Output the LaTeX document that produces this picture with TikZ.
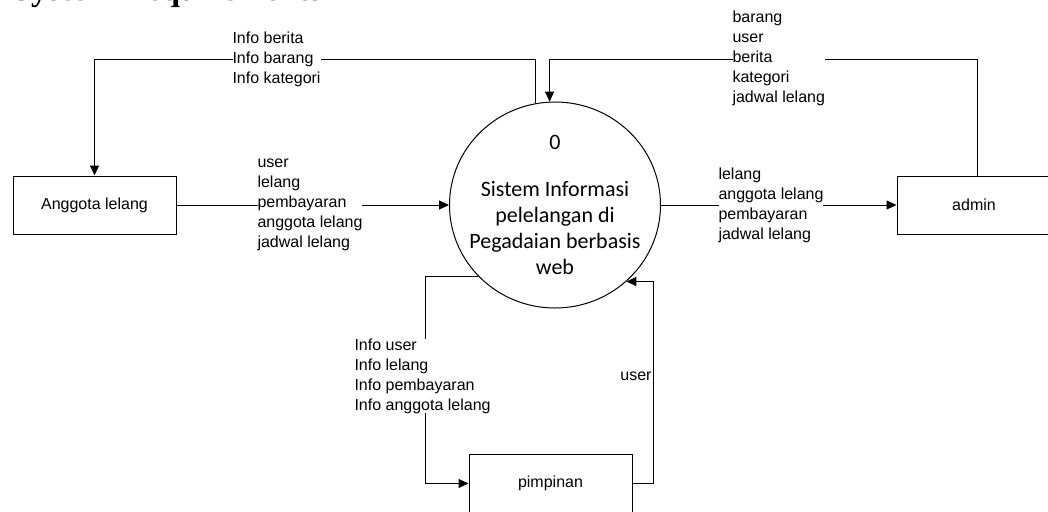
\documentclass[tikz,border=0pt]{standalone}
\usepackage{fontspec}
\setmainfont{Liberation Sans}
\newfontfamily\procfont{Carlito}
\newfontfamily\headfont{Liberation Serif}
\usetikzlibrary{arrows.meta,shapes.geometric}

\tikzset{every picture/.style={line width=0.75pt}}
\tikzset{
  entity/.style={draw, rectangle, minimum height=43.5pt, inner sep=0pt, font=\fontsize{12}{15}\selectfont},
  process/.style={draw, ellipse, minimum width=158.25pt, minimum height=154.5pt, inner sep=0pt},
  proctext/.style={align=center, inner sep=0pt, font=\procfont\fontsize{16.5}{19.5}\selectfont},
  flow/.style={-{Triangle[length=7.5pt,width=6.75pt]}},
  flowlabel/.style={anchor=west, align=left, fill=white, inner sep=0pt, font=\fontsize{12}{15}\selectfont},
}

\begin{document}
\begin{tikzpicture}[x=0.75pt,y=0.75pt,yscale=-1,xscale=1]
\useasboundingbox (0,0) rectangle (1048,511);
\clip (0,0) rectangle (1048,511);

% Text Node
\node [anchor=base west, inner sep=0pt, font=\headfont\bfseries\fontsize{25}{30}\selectfont] (heading) at (12,0.5) {System Requirements};

%Shape: Circle
\node [process] (sys) at (555,205) {};
% Text Node
\node [proctext] (systext) at (555,205) {0\\[16.3pt]Sistem Informasi\\pelelangan di\\Pegadaian berbasis\\web};

%Shape: Rectangle
\node [entity, minimum width=122.25pt] (anggota) at (94.5,205) {Anggota lelang};
%Shape: Rectangle
\node [entity, minimum width=115.5pt] (admin) at (974,205) {admin};
%Shape: Rectangle
\node [entity, minimum width=122.25pt] (pimpinan) at (550.5,483.5) {pimpinan};

\coordinate (topY) at (0,59);

%Straight Lines
\draw [flow] (sys.101) -- (sys.101 |- topY) -| (anggota.north);
%Straight Lines
\draw [flow] ([xshift=2.25pt]admin.north) |- (sys.93 |- topY) -- (sys.93);
%Straight Lines
\draw [flow] (anggota.east) -- (sys.west);
%Straight Lines
\draw [flow] (sys.east) -- (admin.west);
%Straight Lines
\draw [flow] (sys.-137) -- ++(-52.5,0) |- (pimpinan.west);
%Straight Lines
\draw [flow] (pimpinan.east) -- ++(21,0) |- (sys.-47);

% Text Node
\node [flowlabel] (infolbl) at (232,59) {Info berita\\Info barang\\Info kategori};
% Text Node
\node [flowlabel] (anggotalbl) at (257,205) {user\\lelang\\pembayaran\\anggota lelang\\jadwal lelang};
% Text Node
\node [flowlabel] (admininlbl) at (732,58) {barang\\user\\berita\\kategori\\jadwal lelang};
% Text Node
\node [flowlabel] (adminoutlbl) at (718,205) {lelang\\anggota lelang\\pembayaran\\jadwal lelang};
% Text Node
\node [flowlabel] (pimpinlbl) at (354,376) {Info user\\Info lelang\\Info pembayaran\\Info anggota lelang};
% Text Node
\node [anchor=east, inner sep=0pt, font=\fontsize{12}{15}\selectfont] (pimpoutlbl) at (652,376) {user};

\end{tikzpicture}
\end{document}
